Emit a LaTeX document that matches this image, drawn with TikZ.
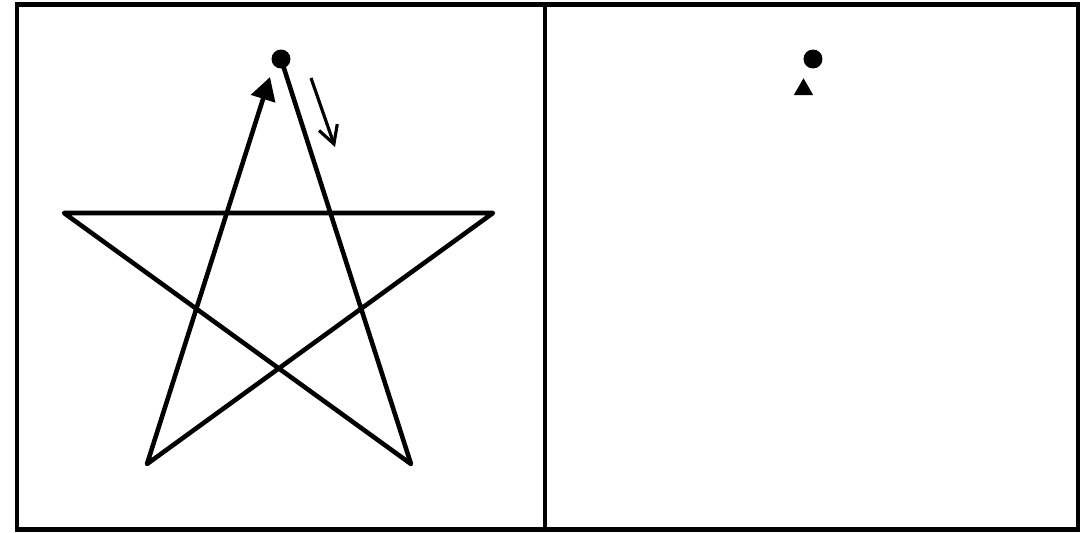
\documentclass[tikz,border=0pt]{standalone}
\usetikzlibrary{arrows.meta,positioning,calc,shapes.geometric}

\begin{document}
\begin{tikzpicture}[x=0.02cm,y=-0.02cm,
    frame/.style={line width=2.3pt},
    stroke/.style={line width=2.6pt,line join=round,line cap=round},
    dot/.style={circle,fill=black,inner sep=0pt,minimum size=10.8pt},
    head/.style={regular polygon,regular polygon sides=3,fill=black,
                 inner sep=0pt,minimum size=12.8pt}]
  \useasboundingbox (0,0) rectangle (1086,532);
  \draw[frame] (17,4.5) rectangle (1078,529.5);
  \draw[frame] (545,4.5) -- (545,529.5);
  % left panel: star drawn in one stroke
  \coordinate (botright) at (411,464);
  \coordinate (left) at (64,213);
  \coordinate (right) at (493,213);
  \coordinate (botleft) at (147,464);
  \coordinate (tip) at (270,77);
  \draw[stroke,-{Triangle[length=13pt,width=14pt]}]
    (281,59) -- (botright) -- (left) -- (right) -- (botleft) -- (tip);
  \node[dot] (start) at (281,59) {};
  % direction of travel
  \coordinate (dirfrom) at (311,78);
  \coordinate (dirto) at (335,147);
  \draw[line width=1.8pt,-{Straight Barb[length=10pt,width=11pt]}] (dirfrom) -- (dirto);
  % right panel: only the end marks
  \node[dot] (dotright) at (813,59) {};
  \node[head] (headright) at (803.5,89.5) {};
\end{tikzpicture}
\end{document}
